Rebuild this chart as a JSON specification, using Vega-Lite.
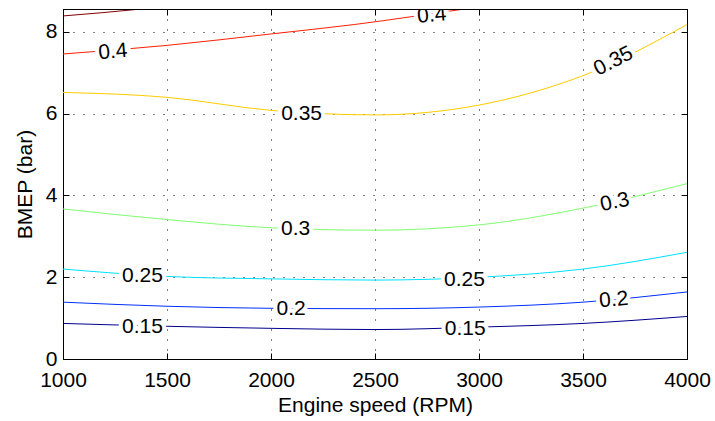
{
  "$schema": "https://vega.github.io/schema/vega-lite/v6.json",
  "width": 624,
  "height": 350,
  "autosize": "none",
  "padding": {"left": 63, "top": 9, "right": 28, "bottom": 62},
  "config": {
    "font": "Liberation Sans",
    "view": {"stroke": "#000", "strokeWidth": 1},
    "axis": {
      "labelFont": "Liberation Sans",
      "titleFont": "Liberation Sans",
      "labelFontSize": 21,
      "titleFontSize": 21,
      "titleFontWeight": "normal",
      "labelColor": "#000",
      "titleColor": "#000",
      "domainColor": "#000",
      "tickColor": "#000",
      "gridColor": "#000",
      "gridOpacity": 1,
      "gridDash": [1, 9],
      "gridWidth": 1
    }
  },
  "datasets": {
    "contours": [
      {"level": "0.15", "rpm": 1000, "bmep": 0.87},
      {"level": "0.15", "rpm": 1500, "bmep": 0.8},
      {"level": "0.15", "rpm": 2000, "bmep": 0.75},
      {"level": "0.15", "rpm": 2500, "bmep": 0.72},
      {"level": "0.15", "rpm": 3000, "bmep": 0.78},
      {"level": "0.15", "rpm": 3500, "bmep": 0.87},
      {"level": "0.15", "rpm": 4000, "bmep": 1.04},
      {"level": "0.2", "rpm": 1000, "bmep": 1.39},
      {"level": "0.2", "rpm": 1500, "bmep": 1.29},
      {"level": "0.2", "rpm": 2000, "bmep": 1.24},
      {"level": "0.2", "rpm": 2500, "bmep": 1.23},
      {"level": "0.2", "rpm": 3000, "bmep": 1.27},
      {"level": "0.2", "rpm": 3500, "bmep": 1.39},
      {"level": "0.2", "rpm": 4000, "bmep": 1.64},
      {"level": "0.25", "rpm": 1000, "bmep": 2.2},
      {"level": "0.25", "rpm": 1500, "bmep": 2.02},
      {"level": "0.25", "rpm": 2000, "bmep": 1.96},
      {"level": "0.25", "rpm": 2500, "bmep": 1.93},
      {"level": "0.25", "rpm": 3000, "bmep": 2.0},
      {"level": "0.25", "rpm": 3500, "bmep": 2.2},
      {"level": "0.25", "rpm": 4000, "bmep": 2.61},
      {"level": "0.3", "rpm": 1000, "bmep": 3.67},
      {"level": "0.3", "rpm": 1500, "bmep": 3.41},
      {"level": "0.3", "rpm": 2000, "bmep": 3.21},
      {"level": "0.3", "rpm": 2500, "bmep": 3.15},
      {"level": "0.3", "rpm": 3000, "bmep": 3.28},
      {"level": "0.3", "rpm": 3500, "bmep": 3.69},
      {"level": "0.3", "rpm": 4000, "bmep": 4.29},
      {"level": "0.35", "rpm": 1000, "bmep": 6.52},
      {"level": "0.35", "rpm": 1500, "bmep": 6.4},
      {"level": "0.35", "rpm": 2000, "bmep": 6.08},
      {"level": "0.35", "rpm": 2500, "bmep": 5.97},
      {"level": "0.35", "rpm": 2750, "bmep": 6.03},
      {"level": "0.35", "rpm": 3000, "bmep": 6.21},
      {"level": "0.35", "rpm": 3250, "bmep": 6.51},
      {"level": "0.35", "rpm": 3500, "bmep": 6.93},
      {"level": "0.35", "rpm": 4000, "bmep": 8.18},
      {"level": "0.4", "rpm": 1000, "bmep": 7.46},
      {"level": "0.4", "rpm": 1500, "bmep": 7.67},
      {"level": "0.4", "rpm": 2000, "bmep": 7.95},
      {"level": "0.4", "rpm": 2400, "bmep": 8.18},
      {"level": "0.4", "rpm": 2930, "bmep": 8.56},
      {"level": "0.4", "rpm": 3000, "bmep": 8.61},
      {"level": "0.45", "rpm": 1000, "bmep": 8.39},
      {"level": "0.45", "rpm": 1376, "bmep": 8.56},
      {"level": "0.45", "rpm": 1450, "bmep": 8.6}
    ],
    "labels": [
      {"label": "0.15", "rpm": 1382, "bmep": 0.79},
      {"label": "0.15", "rpm": 2934, "bmep": 0.74},
      {"label": "0.2", "rpm": 2097, "bmep": 1.23},
      {"label": "0.2", "rpm": 3648, "bmep": 1.44},
      {"label": "0.25", "rpm": 1382, "bmep": 2.04},
      {"label": "0.25", "rpm": 2930, "bmep": 1.94},
      {"label": "0.3", "rpm": 2118, "bmep": 3.17},
      {"label": "0.3", "rpm": 3653, "bmep": 3.83},
      {"label": "0.35", "rpm": 2147, "bmep": 5.98},
      {"label": "0.35", "rpm": 3647, "bmep": 7.28},
      {"label": "0.4", "rpm": 1240, "bmep": 7.51},
      {"label": "0.4", "rpm": 2773, "bmep": 8.4}
    ]
  },
  "layer": [
    {
      "data": {"name": "contours"},
      "mark": {"type": "line", "strokeWidth": 1, "interpolate": "monotone", "clip": true},
      "encoding": {
        "x": {
          "field": "rpm", "type": "quantitative",
          "scale": {"domain": [1000, 4000], "nice": false, "zero": false},
          "axis": {
            "orient": "bottom", "title": "Engine speed (RPM)", "format": "d",
            "values": [1000, 1500, 2000, 2500, 3000, 3500, 4000],
            "grid": true, "tickSize": -6, "labelPadding": 16, "titlePadding": 4,
            "labelFlush": false, "labelOverlap": false
          }
        },
        "y": {
          "field": "bmep", "type": "quantitative",
          "scale": {"domain": [0, 8.56], "nice": false, "zero": false},
          "axis": {
            "orient": "left", "title": "BMEP (bar)", "format": "d",
            "values": [0, 2, 4, 6, 8],
            "grid": true, "tickSize": -6, "labelPadding": 12, "titlePadding": 10,
            "labelFlush": false, "labelOverlap": false
          }
        },
        "color": {
          "field": "level", "type": "nominal",
          "scale": {
            "domain": ["0.15", "0.2", "0.25", "0.3", "0.35", "0.4", "0.45"],
            "range": ["#00008F", "#0030FF", "#00E0FF", "#80FF70", "#FFCC00", "#FF2000", "#800000"]
          },
          "legend": null
        },
        "detail": {"field": "level"}
      }
    },
    {
      "data": {"name": "labels"},
      "transform": [{"filter": "datum.rpm < 3500 && !(datum.label == '0.4')"}],
      "layer": [
        {"mark": {"type": "text", "fontSize": 21, "font": "Liberation Sans", "stroke": "white", "strokeWidth": 8, "fill": "white", "clip": true}},
        {"mark": {"type": "text", "fontSize": 21, "font": "Liberation Sans", "fill": "#000", "clip": true}}
      ],
      "encoding": {
        "x": {
          "field": "rpm", "type": "quantitative",
          "axis": {"orient": "top", "labels": false, "title": null, "grid": false, "tickSize": -6, "zindex": 1,
                   "values": [1000, 1500, 2000, 2500, 3000, 3500, 4000]}
        },
        "y": {
          "field": "bmep", "type": "quantitative",
          "axis": {"orient": "right", "labels": false, "title": null, "grid": false, "tickSize": -6, "zindex": 1,
                   "values": [0, 2, 4, 6, 8]}
        },
        "text": {"field": "label"}
      }
    },
    {
      "data": {"name": "labels"},
      "transform": [{"filter": "datum.label == '0.4' || (datum.label == '0.2' && datum.rpm > 3500)"}],
      "layer": [
        {"mark": {"type": "text", "angle": -5, "fontSize": 21, "font": "Liberation Sans", "stroke": "white", "strokeWidth": 8, "fill": "white", "clip": true}},
        {"mark": {"type": "text", "angle": -5, "fontSize": 21, "font": "Liberation Sans", "fill": "#000", "clip": true}}
      ],
      "encoding": {
        "x": {"field": "rpm", "type": "quantitative", "axis": null},
        "y": {"field": "bmep", "type": "quantitative", "axis": null},
        "text": {"field": "label"}
      }
    },
    {
      "data": {"name": "labels"},
      "transform": [{"filter": "datum.label == '0.3' && datum.rpm > 3500"}],
      "layer": [
        {"mark": {"type": "text", "angle": -12, "fontSize": 21, "font": "Liberation Sans", "stroke": "white", "strokeWidth": 8, "fill": "white", "clip": true}},
        {"mark": {"type": "text", "angle": -12, "fontSize": 21, "font": "Liberation Sans", "fill": "#000", "clip": true}}
      ],
      "encoding": {
        "x": {"field": "rpm", "type": "quantitative", "axis": null},
        "y": {"field": "bmep", "type": "quantitative", "axis": null},
        "text": {"field": "label"}
      }
    },
    {
      "data": {"name": "labels"},
      "transform": [{"filter": "datum.label == '0.35' && datum.rpm > 3500"}],
      "layer": [
        {"mark": {"type": "text", "angle": -27, "fontSize": 21, "font": "Liberation Sans", "stroke": "white", "strokeWidth": 8, "fill": "white", "clip": true}},
        {"mark": {"type": "text", "angle": -27, "fontSize": 21, "font": "Liberation Sans", "fill": "#000", "clip": true}}
      ],
      "encoding": {
        "x": {"field": "rpm", "type": "quantitative", "axis": null},
        "y": {"field": "bmep", "type": "quantitative", "axis": null},
        "text": {"field": "label"}
      }
    }
  ]
}
